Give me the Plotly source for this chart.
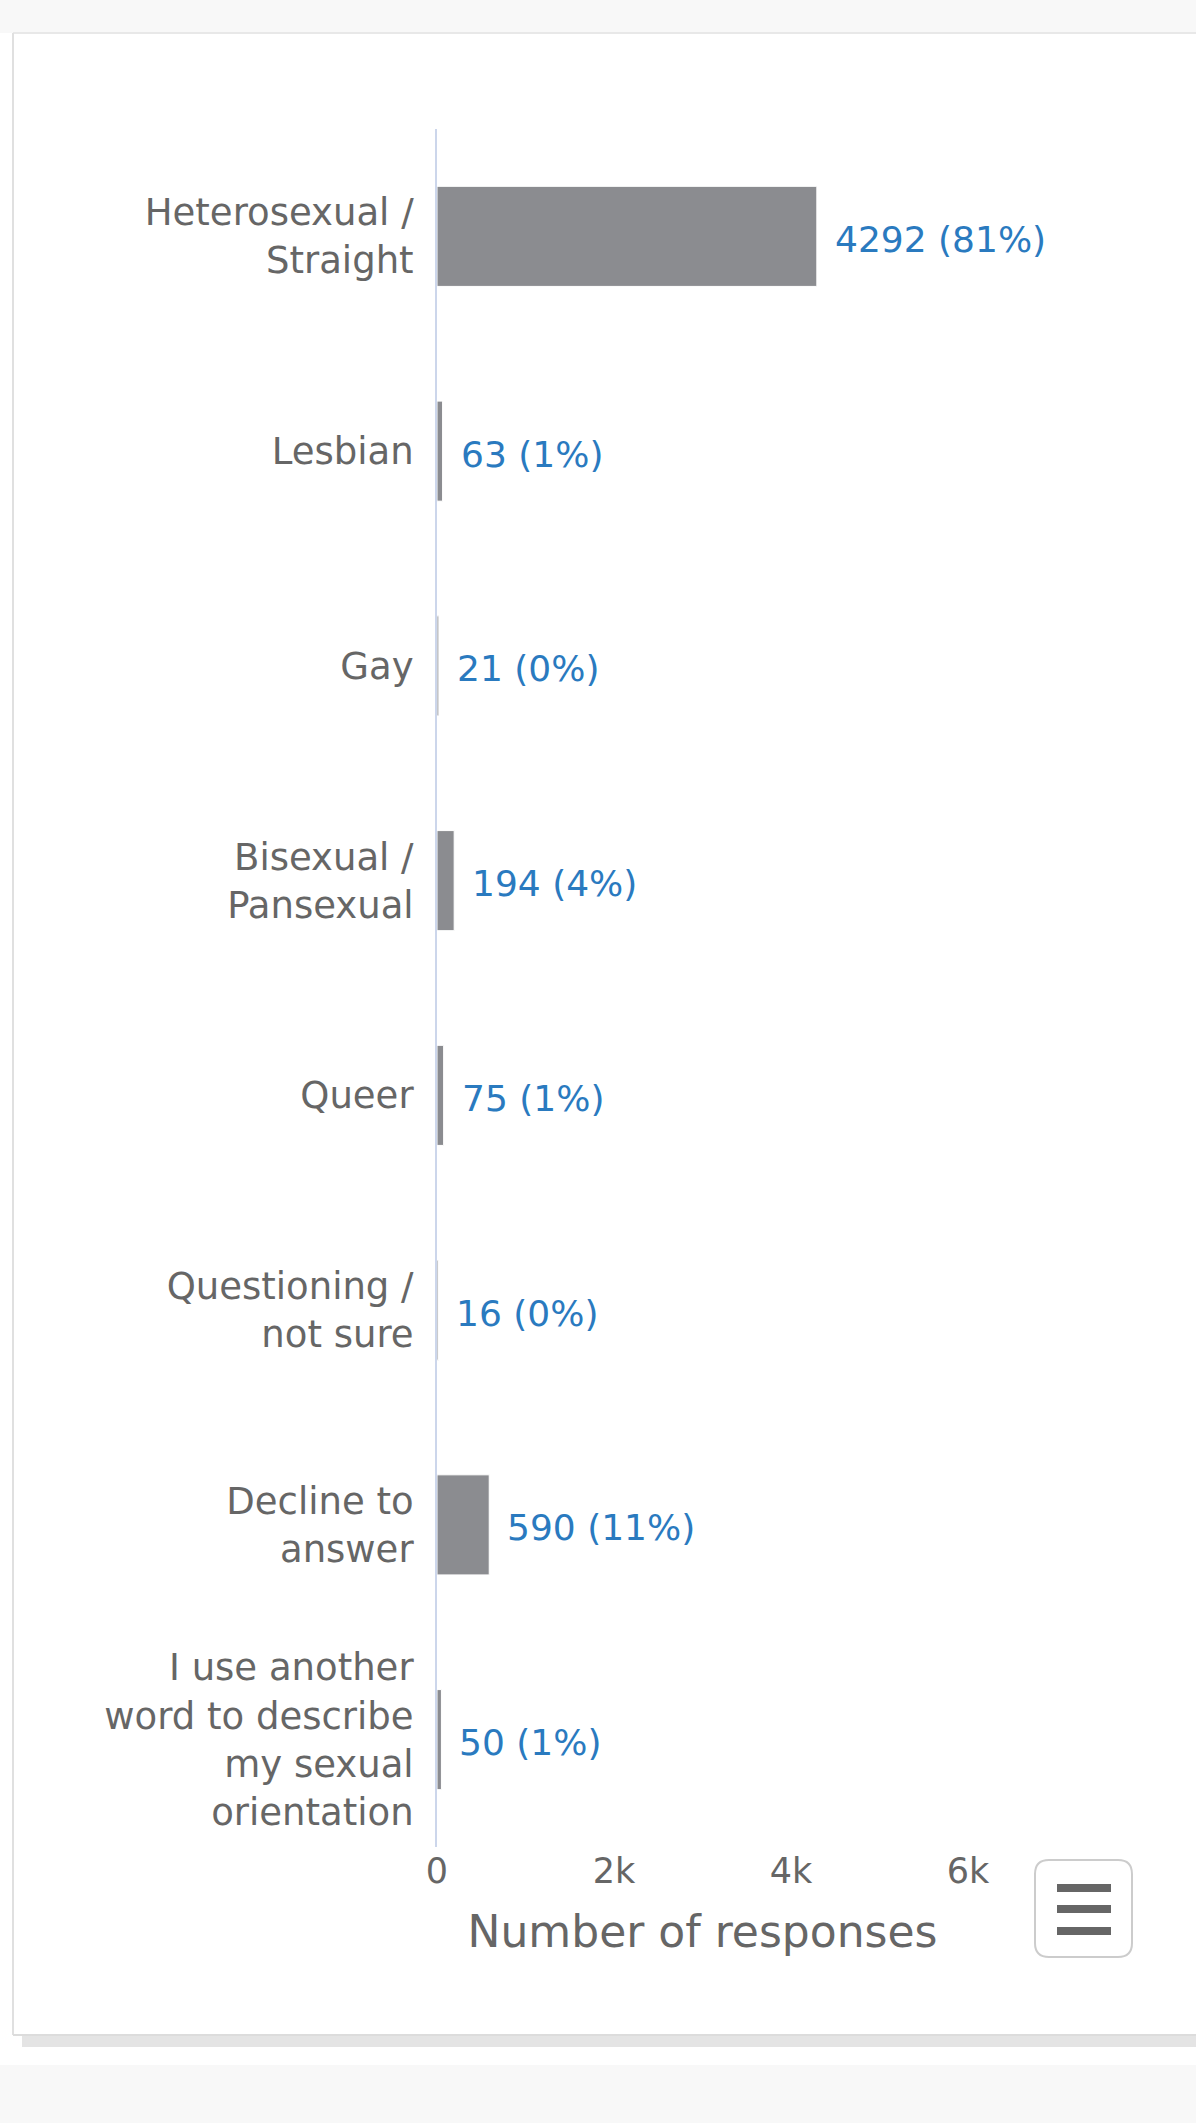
import plotly.graph_objects as go

categories = ["Heterosexual /<br>Straight", "Lesbian", "Gay", "Bisexual /<br>Pansexual", "Queer",
              "Questioning /<br>not sure", "Decline to<br>answer",
              "I use another<br>word to describe<br>my sexual<br>orientation"]
counts = [4292, 63, 21, 194, 75, 16, 590, 50]
percents = [81, 1, 0, 4, 1, 0, 11, 1]
x_ticks = [0, 2000, 4000, 6000]
x_tick_labels = ["0", "2k", "4k", "6k"]
x_title = "Number of responses"

W, H = 1196, 2123
ML, MR, MT, MB = 437, 228, 129, 276
PW = W - ML - MR
PH = H - MT - MB
FONT = "DejaVu Sans"

def px(x):
    return (x - ML) / PW

def py(y):
    return (H - MB - y) / PH

fig = go.Figure()
fig.add_trace(go.Bar(
    y=categories, x=counts, orientation="h",
    marker=dict(color="#8b8c90", line=dict(color="#ffffff", width=1)),
    hoverinfo="skip", showlegend=False,
))

for c, v, p in zip(categories, counts, percents):
    fig.add_annotation(x=v, y=c, xref="x", yref="y", text=f"{v} ({p}%)",
                       showarrow=False, xanchor="left", yanchor="middle",
                       xshift=16, yshift=-3,
                       font=dict(family=FONT, size=36, color="#2a7abf"))

shapes = []
# top gray band
shapes.append(dict(type="rect", xref="paper", yref="paper", x0=px(0), x1=px(W), y0=py(33), y1=py(0),
                   fillcolor="#f8f8f8", line=dict(width=0), layer="below"))
shapes.append(dict(type="line", xref="paper", yref="paper", x0=px(13), x1=px(W), y0=py(33), y1=py(33),
                   line=dict(color="#e8e8e8", width=2), layer="below"))
# card left border
shapes.append(dict(type="line", xref="paper", yref="paper", x0=px(13), x1=px(13), y0=py(2035), y1=py(33),
                   line=dict(color="#e0e0e0", width=2), layer="below"))
# card bottom border + shadow
shapes.append(dict(type="rect", xref="paper", yref="paper", x0=px(22), x1=px(W), y0=py(2047), y1=py(2035),
                   fillcolor="#e4e4e4", line=dict(width=0), layer="below"))
shapes.append(dict(type="line", xref="paper", yref="paper", x0=px(13), x1=px(W), y0=py(2035), y1=py(2035),
                   line=dict(color="#dcdcdc", width=2), layer="below"))
# bottom gray band
shapes.append(dict(type="rect", xref="paper", yref="paper", x0=px(0), x1=px(W), y0=py(H), y1=py(2065),
                   fillcolor="#f8f8f8", line=dict(width=0), layer="below"))

# menu button (rounded rect)
bx0, bx1, by0, by1, r = 1035, 1132, 1860, 1957, 14
def P(x, y):
    return f"{px(x):.5f},{py(y):.5f}"
path = (f"M {P(bx0 + r, by0)} L {P(bx1 - r, by0)} Q {P(bx1, by0)} {P(bx1, by0 + r)} "
        f"L {P(bx1, by1 - r)} Q {P(bx1, by1)} {P(bx1 - r, by1)} "
        f"L {P(bx0 + r, by1)} Q {P(bx0, by1)} {P(bx0, by1 - r)} "
        f"L {P(bx0, by0 + r)} Q {P(bx0, by0)} {P(bx0 + r, by0)} Z")
shapes.append(dict(type="path", xref="paper", yref="paper", path=path,
                   fillcolor="#ffffff", line=dict(color="#cccccc", width=2)))
for ly in [1888, 1909, 1931]:
    shapes.append(dict(type="line", xref="paper", yref="paper", x0=px(1057), x1=px(1111),
                       y0=py(ly), y1=py(ly), line=dict(color="#666666", width=8)))

fig.update_layout(
    width=W, height=H,
    margin=dict(l=ML, r=MR, t=MT, b=MB, autoexpand=False),
    paper_bgcolor="#ffffff", plot_bgcolor="rgba(0,0,0,0)",
    bargap=0.534,
    shapes=shapes,
    font=dict(family=FONT, color="#666666"),
    xaxis=dict(range=[0, 6000], tickmode="array", tickvals=x_ticks, ticktext=x_tick_labels,
               showgrid=False, zeroline=False, showline=False, ticks="",
               tickfont=dict(family=FONT, size=35, color="#666666"),
               title=dict(text=x_title, font=dict(family=FONT, size=44, color="#666666"), standoff=26),
               fixedrange=True),
    yaxis=dict(categoryorder="array", categoryarray=categories, autorange="reversed",
               showgrid=False, zeroline=False, showline=True, linecolor="#ccd6eb", linewidth=2,
               ticks="", ticklabelstandoff=14,
               tickfont=dict(family=FONT, size=37, color="#666666"), fixedrange=True),
)

fig.write_html("out.html", config={"displayModeBar": False},
               post_script="document.body.style.margin='0';document.body.style.padding='0';")
